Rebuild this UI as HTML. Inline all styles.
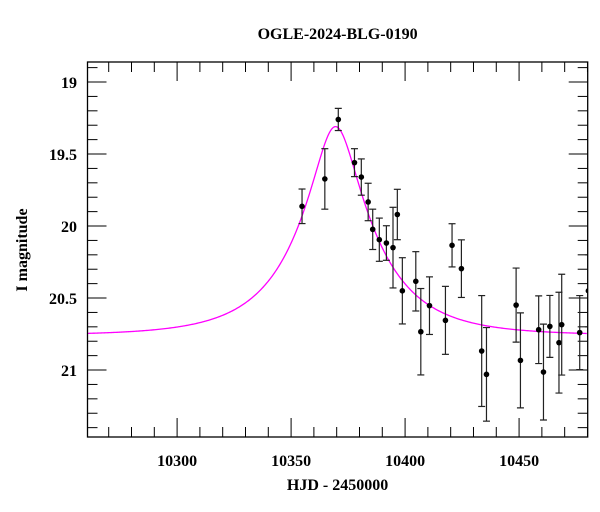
<!DOCTYPE html>
<html><head><meta charset="utf-8"><style>
html,body{margin:0;padding:0;background:#fff;}
svg{display:block;font-family:"Liberation Serif",serif;}
</style></head><body>
<svg id="chart" width="600" height="512" viewBox="0 0 600 512">
<defs><clipPath id="pc"><rect x="87.5" y="62" width="500.2" height="375"/></clipPath></defs>
<rect width="600" height="512" fill="#fff"/>
<g id="ticks"></g>
<path id="model" fill="none" stroke="#ff00ff" stroke-width="1.3" clip-path="url(#pc)"/>
<g id="pts" clip-path="url(#pc)"></g>
<rect x="87.5" y="62" width="500.2" height="375" fill="none" stroke="#000" stroke-width="1.3"/>
<text x="337.6" y="39" text-anchor="middle" font-size="16" font-weight="bold">OGLE-2024-BLG-0190</text>
<text x="337.6" y="490" text-anchor="middle" font-size="16" font-weight="bold">HJD - 2450000</text>
<text transform="translate(27,250) rotate(-90)" text-anchor="middle" font-size="16" font-weight="bold">I magnitude</text>
<g id="labels"></g>
</svg>
<script>
const days=[10354.8,10364.8,10370.7,10377.8,10380.8,10383.8,10385.8,10388.7,10391.8,10394.7,10396.6,10398.8,10404.7,10406.9,10410.7,10417.7,10420.6,10424.7,10433.6,10435.7,10448.7,10450.6,10458.6,10460.7,10463.5,10467.5,10468.7,10476.6,10480.4];
const mags=[19.863,19.673,19.26,19.56,19.66,19.833,20.023,20.095,20.118,20.15,19.92,20.45,20.384,20.734,20.553,20.655,20.134,20.296,20.868,21.03,20.549,20.933,20.72,21.014,20.697,20.81,20.685,20.74,20.45];
const errs=[0.12,0.21,0.077,0.097,0.126,0.13,0.14,0.15,0.12,0.28,0.175,0.23,0.206,0.3,0.2,0.236,0.15,0.2,0.385,0.325,0.257,0.33,0.235,0.333,0.215,0.35,0.35,0.257,0.25];
const modelParams=[10369.5,0.27,34,20.76]; // t0, u0, tE, baseline
const xTicks=[10300,10350,10400,10450];
const yTicks=[19,19.5,20,20.5,21];

const X0=87.5,X1=587.7,Y0=62,Y1=437;
const xMin=10260.7,xMax=10480.1,yMin=18.861,yMax=21.465;
const sx=d=>X0+(d-xMin)/(xMax-xMin)*(X1-X0);
const sy=m=>Y0+(m-yMin)/(yMax-yMin)*(Y1-Y0);
const NS="http://www.w3.org/2000/svg";
function mk(tag,attrs,parent){const e=document.createElementNS(NS,tag);for(const k in attrs)e.setAttribute(k,attrs[k]);parent.appendChild(e);return e;}

const tg=document.getElementById('ticks');
for(let d=10270;d<=10480;d+=10){
  const major=d%50===0,L=major?19:10,x=sx(d);
  const t1=mk('line',{x1:x,x2:x,y1:Y1,y2:Y1-L,stroke:'#000','stroke-width':1},tg);
  
  
  const t2=mk('line',{x1:x,x2:x,y1:Y0,y2:Y0+L,stroke:'#000','stroke-width':1},tg);
  
  
}
for(let i=19;i<=214;i++){
  const m=i/10; if(m<yMin||m>yMax)continue;
  const major=i%5===0,L=major?19:10,y=sy(m);
  const t1=mk('line',{x1:X0,x2:X0+L,y1:y,y2:y,stroke:'#000','stroke-width':1},tg);
  
  
  const t2=mk('line',{x1:X1,x2:X1-L,y1:y,y2:y,stroke:'#000','stroke-width':1},tg);
  
  
}
const lg=document.getElementById('labels');
xTicks.forEach(v=>{const t=mk('text',{x:sx(v),y:466,'text-anchor':'middle','font-size':16,'font-weight':'bold'},lg);t.textContent=v;
  
  });
yTicks.forEach(v=>{const t=mk('text',{x:77,y:sy(v)+6,'text-anchor':'end','font-size':16,'font-weight':'bold'},lg);t.textContent=v;
  
  });

const [t0,u0,tE,base]=modelParams;
let dstr='';
for(let d=xMin;d<=xMax;d+=0.5){
  const tau=(d-t0)/tE,u=Math.sqrt(u0*u0+tau*tau);
  const A=(u*u+2)/(u*Math.sqrt(u*u+4));
  const m=base-2.5*Math.log10(A);
  dstr+=(dstr?'L':'M')+sx(d).toFixed(2)+','+sy(m).toFixed(2);
}
document.getElementById('model').setAttribute('d',dstr);

const pg=document.getElementById('pts');
days.forEach((d,i)=>{
  const x=sx(d),y=sy(mags[i]),ya=sy(mags[i]-errs[i]),yb=sy(mags[i]+errs[i]);
  const g=mk('g',{},pg);
  
  
  mk('line',{x1:x,x2:x,y1:ya,y2:yb,stroke:'#222','stroke-width':1.2},g);
  mk('line',{x1:x-3.5,x2:x+3.5,y1:ya,y2:ya,stroke:'#222','stroke-width':1.2},g);
  mk('line',{x1:x-3.5,x2:x+3.5,y1:yb,y2:yb,stroke:'#222','stroke-width':1.2},g);
  mk('circle',{cx:x,cy:y,r:2.8,fill:'#000'},g);
});
</script>
</body></html>
